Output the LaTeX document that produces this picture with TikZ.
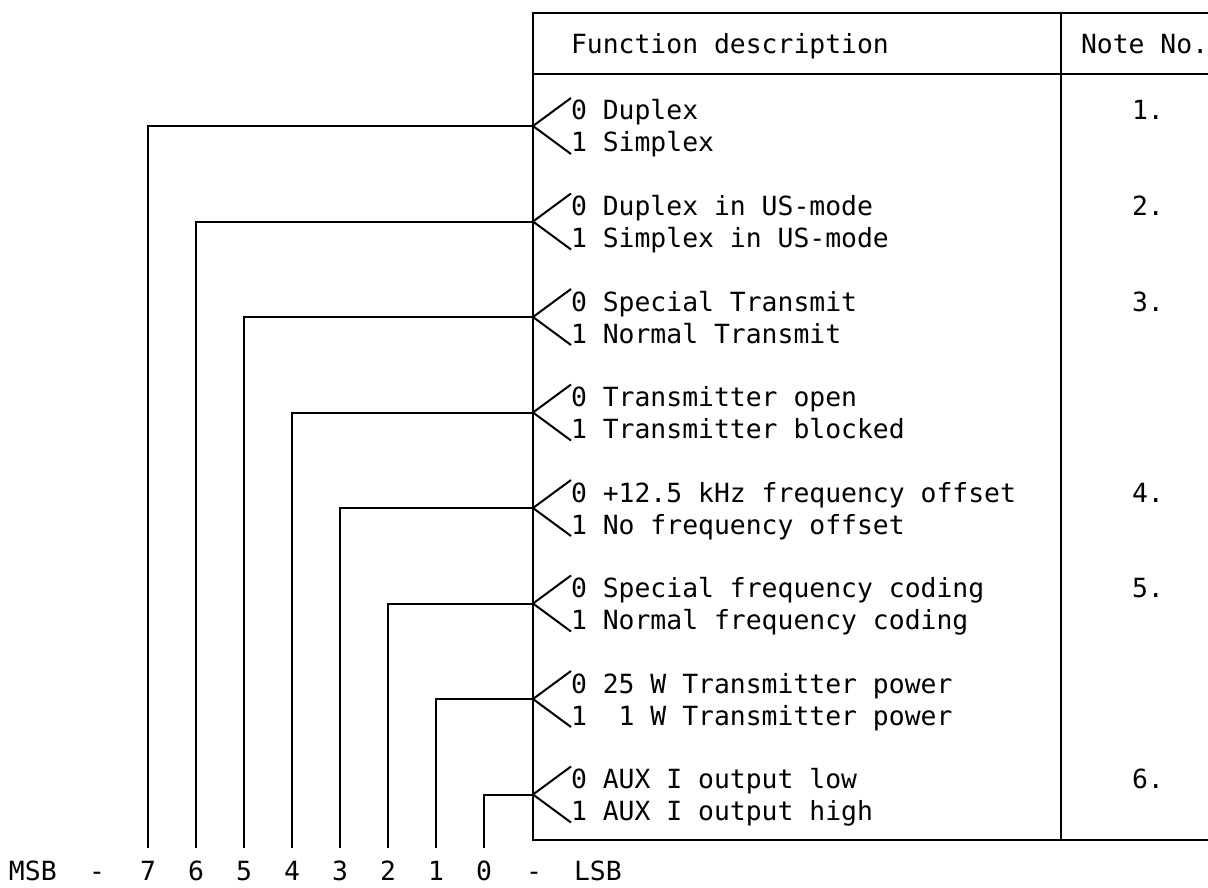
\documentclass[tikz,border=0pt]{standalone}
\usepackage{fontspec}
\setmonofont{DejaVu Sans Mono}
\begin{document}
\begin{tikzpicture}[x=1pt,y=-1pt,line width=2pt,
  txt/.style={anchor=base west,inner sep=0pt,font=\ttfamily\fontsize{26.4}{32}\selectfont},
  lbl/.style={anchor=base,inner sep=0pt,font=\ttfamily\fontsize{26.4}{32}\selectfont},
  rule/.style={line width=2pt},
  fork/.style={line width=2pt},
  bitline/.style={line width=2pt}]
\useasboundingbox (0,0) rectangle (1208,888);
% table frame
\coordinate (tl) at (533,13);
\coordinate (tr) at (1208,13);
\coordinate (bl) at (533,840);
\coordinate (br) at (1208,840);
\coordinate (hl) at (533,74);
\coordinate (hr) at (1208,74);
\coordinate (ct) at (1061,13);
\coordinate (cb) at (1061,840);
\draw[rule] (tr) -- (tl) -- (bl) -- (br);
\draw[rule] (hl) -- (hr);
\draw[rule] (ct) -- (cb);
\node[txt] (hfunc) at (570,54) {Function description};
\node[txt] (hnote) at (1080,54) {Note No.};
% groups
\foreach \k/\za/\on/\nt in {
  0/{Duplex}/{Simplex}/{1.},
  1/{Duplex in US-mode}/{Simplex in US-mode}/{2.},
  2/{Special Transmit}/{Normal Transmit}/{3.},
  3/{Transmitter open}/{Transmitter blocked}/{},
  4/{+12.5 kHz frequency offset}/{No frequency offset}/{4.},
  5/{Special frequency coding}/{Normal frequency coding}/{5.},
  6/{25 W Transmitter power}/{\ 1 W Transmitter power}/{},
  7/{AUX I output low}/{AUX I output high}/{6.}}{
  \pgfmathsetmacro\yk{126+95.5*\k}
  \pgfmathsetmacro\xk{148+48*\k}
  \coordinate (apex\k) at (533,\yk);
  \coordinate (up\k) at (571,\yk-28);
  \coordinate (dn\k) at (571,\yk+28);
  \node[txt] (zero\k) at (570,\yk-6) {0 \za};
  \node[txt] (one\k) at (570,\yk+26) {1 \on};
  \node[txt] (note\k) at (1131,\yk-6) {\nt};
  \draw[fork] (up\k) -- (apex\k) -- (dn\k);
  \coordinate (bit\k) at (\xk,848);
  \node[lbl] (lbl\k) at (\xk,880) {\number\numexpr7-\k\relax};
  \draw[bitline] (bit\k) |- (apex\k);
}
\node[txt] (msb) at (8,880) {MSB};
\node[lbl] (dashl) at (97,880) {-};
\node[lbl] (dashr) at (534,880) {-};
\node[txt] (lsb) at (573,880) {LSB};
\end{tikzpicture}
\end{document}
